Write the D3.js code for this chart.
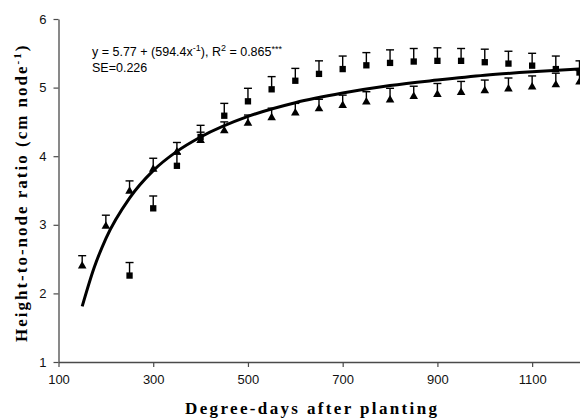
<!DOCTYPE html>
<html>
<head>
<meta charset="utf-8">
<script src="https://cdn.jsdelivr.net/npm/d3@7"></script>
<style>
  body { margin: 0; background: #fff; }
  svg { display: block; }
</style>
</head>
<body>
<svg id="chart" width="580" height="418"></svg>
<script>
// series
var triX = [150,200,250,300,350,400,450,500,550,600,650,700,750,800,850,900,950,1000,1050,1100,1150,1200];
var triY = [2.40,2.98,3.49,3.81,4.06,4.23,4.37,4.48,4.56,4.63,4.69,4.74,4.79,4.82,4.87,4.90,4.93,4.955,4.98,5.01,5.04,5.08];
var triErr = [0.15,0.16,0.15,0.16,0.14,0.12,0.13,0.12,0.14,0.14,0.14,0.15,0.15,0.17,0.15,0.16,0.16,0.155,0.16,0.16,0.17,0.17];

var sqX = [250,300,350,400,450,500,550,600,650,700,750,800,850,900,950,1000,1050,1100,1150,1200];
var sqY = [2.26,3.24,3.86,4.28,4.59,4.80,4.975,5.10,5.20,5.27,5.325,5.36,5.38,5.39,5.39,5.37,5.35,5.32,5.27,5.22];
var sqErr = [0.19,0.18,0.17,0.17,0.18,0.19,0.185,0.18,0.19,0.19,0.185,0.19,0.19,0.19,0.18,0.19,0.18,0.18,0.19,0.17];

// fitted curve
var fitX = [150,175,200,250,300,350,400,500,600,700,800,900,1000,1100,1200];
var fitY = [1.81,2.37,2.80,3.39,3.79,4.07,4.28,4.58,4.78,4.92,5.03,5.11,5.18,5.23,5.27];

var xTicks = [100,300,500,700,900,1100];
var yTicks = [1,2,3,4,5,6];

var svg = d3.select("#chart");

var x = d3.scaleLinear().domain([100, 1200]).range([58.5, 579.5]);
var y = d3.scaleLinear().domain([1, 6]).range([362, 19]);

var axisColor = "#4a4a4a";

var xAxis = d3.axisBottom(x)
  .tickValues(xTicks)
  .tickSizeInner(5)
  .tickSizeOuter(0)
  .tickPadding(8)
  .tickFormat(d3.format("d"));

var yAxis = d3.axisLeft(y)
  .tickValues(yTicks)
  .tickSizeInner(5)
  .tickSizeOuter(0)
  .tickPadding(7)
  .tickFormat(d3.format("d"));

var gx = svg.append("g")
  .attr("transform", "translate(0," + y(1) + ")")
  .call(xAxis);

var gy = svg.append("g")
  .attr("transform", "translate(" + x(100) + ",0)")
  .call(yAxis);

[gx, gy].forEach(function(g) {
  g.select(".domain").attr("stroke", axisColor).attr("stroke-width", 1.3);
  g.selectAll(".tick line").attr("stroke", axisColor).attr("stroke-width", 1.2);
  g.selectAll(".tick text")
    .attr("fill", "#111")
    .attr("font-family", "Liberation Sans, Arial, sans-serif")
    .attr("font-size", 13);
});

var plot = svg.append("g");

function drawSeries(xs, ys, errs, shape) {
  var data = xs.map(function(d, i) { return {x: d, y: ys[i], e: errs[i]}; });

  var bars = plot.append("g").selectAll("g")
    .data(data)
    .enter()
    .append("g");

  bars.append("line")
    .attr("x1", d => x(d.x))
    .attr("x2", d => x(d.x))
    .attr("y1", d => y(d.y))
    .attr("y2", d => y(d.y + d.e))
    .attr("stroke", "#000")
    .attr("stroke-width", 1.4);

  bars.append("line")
    .attr("x1", d => x(d.x) - 4)
    .attr("x2", d => x(d.x) + 4)
    .attr("y1", d => y(d.y + d.e))
    .attr("y2", d => y(d.y + d.e))
    .attr("stroke", "#000")
    .attr("stroke-width", 1.4);

  var sym = d3.symbol()
    .type(shape)
    .size(shape === d3.symbolSquare ? 40 : 32);

  plot.append("g").selectAll("path")
    .data(data)
    .enter()
    .append("path")
    .attr("d", sym)
    .attr("transform", d => "translate(" + x(d.x) + "," + y(d.y) + ")")
    .attr("fill", "#000");
}

drawSeries(triX, triY, triErr, d3.symbolTriangle);
drawSeries(sqX, sqY, sqErr, d3.symbolSquare);

var line = d3.line()
  .x(d => x(d[0]))
  .y(d => y(d[1]))
  .curve(d3.curveMonotoneX);

plot.append("path")
  .datum(fitX.map(function(d, i) { return [d, fitY[i]]; }))
  .attr("d", line)
  .attr("fill", "none")
  .attr("stroke", "#000")
  .attr("stroke-width", 3);

// equation text
var eq = svg.append("text")
  .attr("x", 92)
  .attr("y", 56)
  .attr("font-family", "Liberation Sans, Arial, sans-serif")
  .attr("font-size", 12.5)
  .attr("fill", "#000");
eq.append("tspan").text("y = 5.77 + (594.4x");
eq.append("tspan").attr("dy", -5).attr("font-size", 9).text("-1");
eq.append("tspan").attr("dy", 5).text("), R");
eq.append("tspan").attr("dy", -5).attr("font-size", 9).text("2");
eq.append("tspan").attr("dy", 5).text(" = 0.865");
eq.append("tspan").attr("dy", -4).attr("font-size", 9).text("***");

svg.append("text")
  .attr("x", 92)
  .attr("y", 72)
  .attr("font-family", "Liberation Sans, Arial, sans-serif")
  .attr("font-size", 12.5)
  .attr("fill", "#000")
  .text("SE=0.226");

// axis titles
svg.append("text")
  .attr("x", 185)
  .attr("y", 414)
  .attr("font-family", "Liberation Serif, Times New Roman, serif")
  .attr("font-weight", "bold")
  .attr("font-size", 17)
  .attr("textLength", 252)
  .attr("lengthAdjust", "spacing")
  .attr("fill", "#000")
  .text("Degree-days after planting");

var yt = svg.append("text")
  .attr("transform", "translate(27,342) rotate(-90)")
  .attr("font-family", "Liberation Serif, Times New Roman, serif")
  .attr("font-weight", "bold")
  .attr("font-size", 17)
  .attr("letter-spacing", 2)
  .attr("fill", "#000");
yt.append("tspan").text("Height-to-node ratio (cm node");
yt.append("tspan").attr("dy", -6).attr("font-size", 11).text("-1");
yt.append("tspan").attr("dy", 6).text(")");
</script>
</body>
</html>
